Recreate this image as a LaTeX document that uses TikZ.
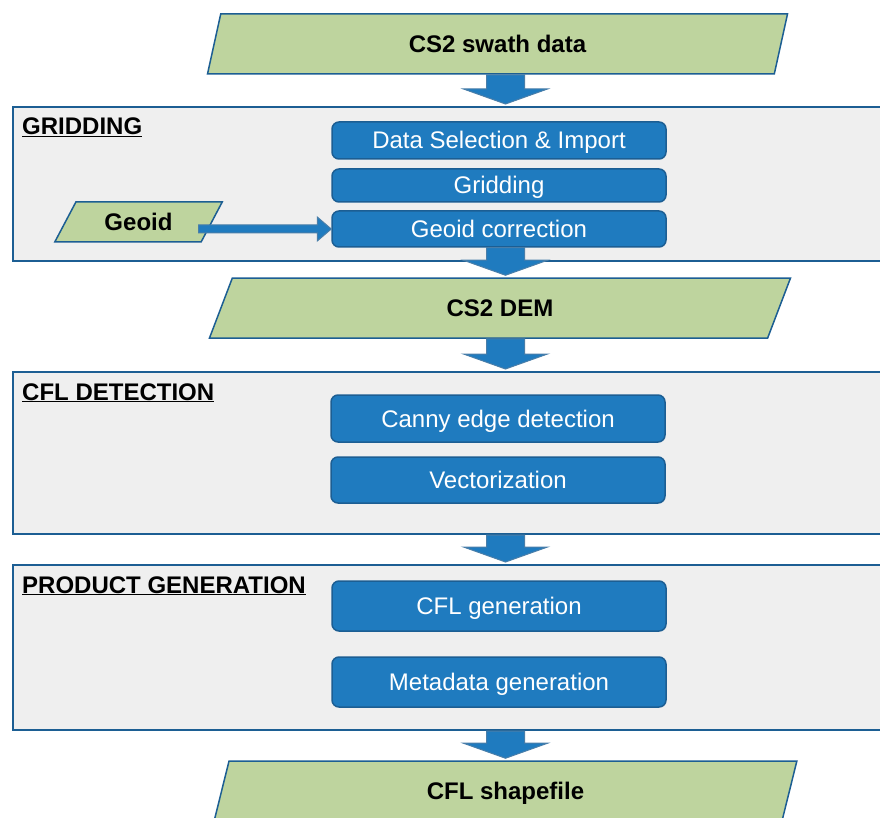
\documentclass[tikz,border=0pt]{standalone}
\usepackage{fontspec}
\setmainfont{Liberation Sans}
\usetikzlibrary{shapes.geometric,calc}

\definecolor{datagreen}{HTML}{BED49E}
\definecolor{stepblue}{HTML}{1F7BBF}
\definecolor{edgeblue}{HTML}{1C5E93}
\definecolor{panelgray}{HTML}{EFEFEF}

\newcommand{\flowarrow}[2]{%
	\draw[fat arrow] let \p1=(#1), \p2=(#2), \p3=(axis) in
		(\x3-19pt,\y1) -- (\x3+19pt,\y1) -- (\x3+19pt,\y2+17pt) -- (\x3+42pt,\y2+17pt)
		-- (\x3,\y2+2pt) -- (\x3-42pt,\y2+17pt) -- (\x3-19pt,\y2+17pt) -- cycle;}

\begin{document}
\begin{tikzpicture}[x=1pt, y=-1pt,
	datashape/.style={shape=trapezium, trapezium stretches=true, draw=edgeblue, line width=1.5pt,
		fill=datagreen, minimum height=60pt, inner sep=0pt, text height=17pt, text depth=0pt,
		font=\fontsize{24}{28}\selectfont\bfseries},
	procbox/.style={draw=edgeblue, line width=1.5pt, fill=stepblue, rounded corners=7pt,
		minimum width=334pt, inner sep=0pt, text height=17pt, text depth=0pt,
		text=white, font=\fontsize{24}{28}\selectfont},
	panel/.style={draw=edgeblue, line width=2pt, fill=panelgray, minimum width=900pt,
		anchor=north west, inner sep=0pt},
	paneltitle/.style={anchor=base west, inner sep=0pt, font=\fontsize{24}{28}\selectfont\bfseries},
	fat arrow/.style={draw=edgeblue!80, line width=1pt, fill=stepblue}]
	%\draw[help lines] (0,0) grid[step=50] (880,818);
	\clip (0,0) rectangle (880,818);
	\coordinate (axis) at (505.5,0);

	\node[panel, minimum height=154pt] (gridpanel) at (12,106) {};
	\node[panel, minimum height=162pt] (detpanel) at (12,371) {};
	\node[panel, minimum height=165pt] (prodpanel) at (12,564) {};
	\node[paneltitle] (gridtitle) at (22,135) {\underline{GRIDDING}};
	\node[paneltitle] (dettitle) at (22,400) {\underline{CFL DETECTION}};
	\node[paneltitle] (prodtitle) at (22,593) {\underline{PRODUCT GENERATION}};

	\node[datashape, trapezium left angle=76, trapezium right angle=104, minimum width=581pt] (swath) at (497.5,44) {CS2 swath data};
	\node[datashape, trapezium left angle=75, trapezium right angle=105, minimum width=582pt] (dem) at (500,308) {CS2 DEM};
	\node[datashape, trapezium left angle=76, trapezium right angle=104, minimum width=583pt] (shapefile) at (505.5,791) {CFL shapefile};
	\node[datashape, trapezium left angle=56, trapezium right angle=124, minimum width=169pt, minimum height=40pt] (geoid) at (138.5,222) {Geoid};

	\node[procbox, minimum height=37pt] (selimport) at (499,140.5) {Data Selection \& Import};
	\node[procbox, minimum height=33pt] (gridstep) at (499,185.5) {Gridding};
	\node[procbox, minimum height=36pt] (geocorr) at (499,229) {Geoid correction};
	\node[procbox, minimum height=47pt] (canny) at (498,418.5) {Canny edge detection};
	\node[procbox, minimum height=46pt] (vector) at (498,480) {Vectorization};
	\node[procbox, minimum height=50pt] (cflgen) at (499,606) {CFL generation};
	\node[procbox, minimum height=50pt] (metagen) at (499,682) {Metadata generation};

	\flowarrow{swath.south}{gridpanel.north}
	\flowarrow{geocorr.south}{dem.north}
	\flowarrow{dem.south}{detpanel.north}
	\flowarrow{detpanel.south}{prodpanel.north}
	\flowarrow{prodpanel.south}{shapefile.north}
	\draw[fat arrow] let \p1=(geoid.east), \p2=(geocorr.west) in
		(\x1-14pt,\y2+4pt) -- (\x2-14pt,\y2+4pt) -- (\x2-14pt,\y2+12pt) -- (\x2,\y2)
		-- (\x2-14pt,\y2-12pt) -- (\x2-14pt,\y2-4pt) -- (\x1-14pt,\y2-4pt) -- cycle;
\end{tikzpicture}
\end{document}
